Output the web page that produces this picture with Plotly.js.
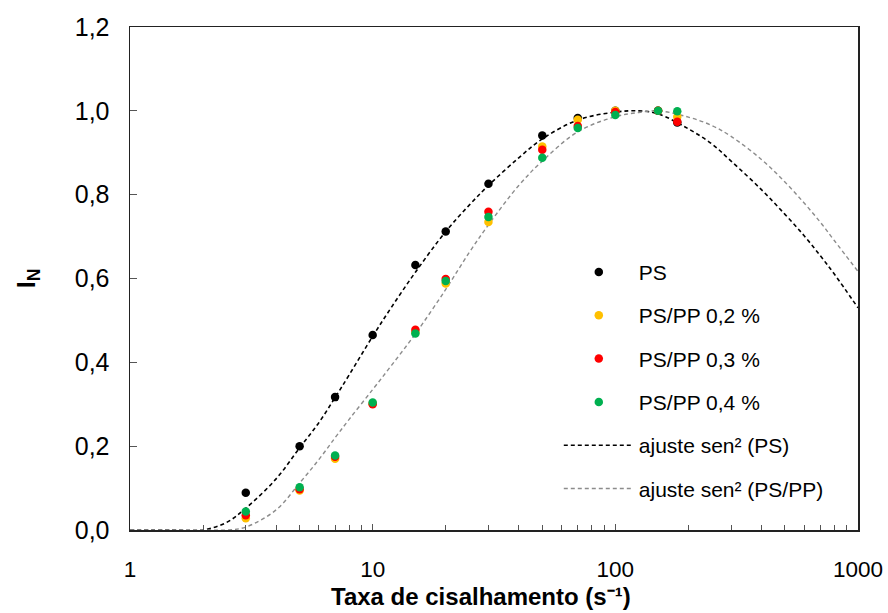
<!DOCTYPE html>
<html>
<head>
<meta charset="utf-8">
<script src="https://cdn.plot.ly/plotly-3.0.1.min.js"></script>
<style>html,body{margin:0;padding:0;background:#fff;}#chart{width:888px;height:613px;}</style>
</head>
<body>
<div id="chart"></div>
<script>
// Measured data (shear rate, s^-1)
const shearRate = [3, 5, 7, 10, 15, 20, 30, 50, 70, 100, 150, 180];
const ps     = [0.089, 0.200, 0.317, 0.465, 0.632, 0.712, 0.826, 0.941, 0.983, 1.000, 1.000, 0.972];
const pspp02 = [0.028, 0.094, 0.170, 0.302, 0.472, 0.588, 0.735, 0.915, 0.979, 1.000, 1.000, 0.986];
const pspp03 = [0.035, 0.097, 0.175, 0.300, 0.478, 0.599, 0.759, 0.907, 0.964, 0.997, 1.000, 0.974];
const pspp04 = [0.044, 0.102, 0.178, 0.304, 0.469, 0.594, 0.747, 0.888, 0.959, 0.990, 1.000, 0.999];

// Fit curves, values
const fitX    = [1, 1.5, 2, 2.5, 3, 4, 5, 6, 7, 8, 10, 12, 15, 20, 25, 30, 40, 50, 70, 100, 125, 150, 200, 250, 300, 400, 500, 600, 700, 800, 1000];
const fitPS   = [0, 0, 0, 0.018, 0.052, 0.122, 0.196, 0.256, 0.316, 0.370, 0.462, 0.533, 0.615, 0.712, 0.775, 0.822, 0.888, 0.933, 0.978, 0.997, 1.000, 0.993, 0.957, 0.921, 0.880, 0.812, 0.753, 0.702, 0.654, 0.610, 0.530];
const fitPSPP = [0, 0, 0, 0, 0.007, 0.048, 0.112, 0.168, 0.220, 0.264, 0.335, 0.394, 0.468, 0.574, 0.662, 0.728, 0.822, 0.880, 0.950, 0.986, 0.996, 1.000, 0.985, 0.965, 0.939, 0.884, 0.830, 0.780, 0.734, 0.690, 0.617];

const labels = ['PS', 'PS/PP 0,2 %', 'PS/PP 0,3 %', 'PS/PP 0,4 %', 'ajuste sen² (PS)', 'ajuste sen² (PS/PP)'];
const colors = ['#000000', '#FFC000', '#FF0000', '#00B050'];
const xTitle = '<b>Taxa de cisalhamento (s⁻¹)</b>';
const yTitle = '<b>I<sub>N</sub></b>';

const font = 'Liberation Sans, Arial, sans-serif';
const traces = [
  {x: fitX, y: fitPS, mode: 'lines', name: labels[4], legendrank: 5, legendgroup: 'f1',
   line: {color: '#000000', width: 1.6, dash: '4px,3px', shape: 'spline', smoothing: 1}},
  {x: fitX, y: fitPSPP, mode: 'lines', name: labels[5], legendrank: 6, legendgroup: 'f2',
   line: {color: '#8C8C8C', width: 1.4, dash: '4px,3px', shape: 'spline', smoothing: 1}},
];
[ps, pspp02, pspp03, pspp04].forEach((ys, i) => {
  traces.push({x: shearRate, y: ys, mode: 'markers', name: labels[i], legendrank: i + 1, legendgroup: 'g' + i,
    marker: {color: colors[i], size: 8.5, line: {width: 0}}});
});

const layout = {
  width: 888, height: 613,
  margin: {l: 130, r: 30, t: 27, b: 83, pad: 0},
  paper_bgcolor: '#fff', plot_bgcolor: '#fff',
  separators: ',.',
  font: {family: font, size: 21, color: '#000'},
  showlegend: true,
  legend: {x: 0.589, y: 0.553, xanchor: 'left', yanchor: 'top', bgcolor: 'rgba(0,0,0,0)',
    font: {family: font, size: 21, color: '#000'}, itemwidth: 70, tracegroupgap: 13,
    traceorder: 'grouped'},
  xaxis: {
    type: 'log', range: [0, 3], tickvals: [1, 10, 100, 1000], ticktext: ['1', '10', '100', '1000'],
    ticks: 'inside', ticklen: 6, tickcolor: '#555', tickwidth: 1,
    minor: {ticks: 'inside', ticklen: 5, tickcolor: '#555', dtick: 'D1', showgrid: false},
    showline: true, linecolor: '#222', linewidth: 1.5, mirror: true,
    showgrid: false, zeroline: false, ticklabelstandoff: 18,
    tickfont: {family: font, size: 22.5, color: '#000'}
  },
  yaxis: {
    range: [0, 1.2], dtick: 0.2, tick0: 0, tickformat: '.1f',
    ticks: 'inside', ticklen: 7, tickcolor: '#555', tickwidth: 1,
    showline: true, linecolor: '#222', linewidth: 1.5, mirror: true,
    showgrid: false, zeroline: false, ticklabelstandoff: 14,
    tickfont: {family: font, size: 25, color: '#000'},
    title: {text: yTitle, font: {family: font, size: 25, color: '#000'}, standoff: 32}
  },
  annotations: [{
    text: xTitle, xref: 'paper', yref: 'paper', x: 0.482, y: -0.163,
    xanchor: 'center', yanchor: 'bottom', showarrow: false,
    font: {family: font, size: 24, color: '#000'}
  }]
};

Plotly.newPlot('chart', traces, layout, {displayModeBar: false, staticPlot: true});
</script>
</body>
</html>
